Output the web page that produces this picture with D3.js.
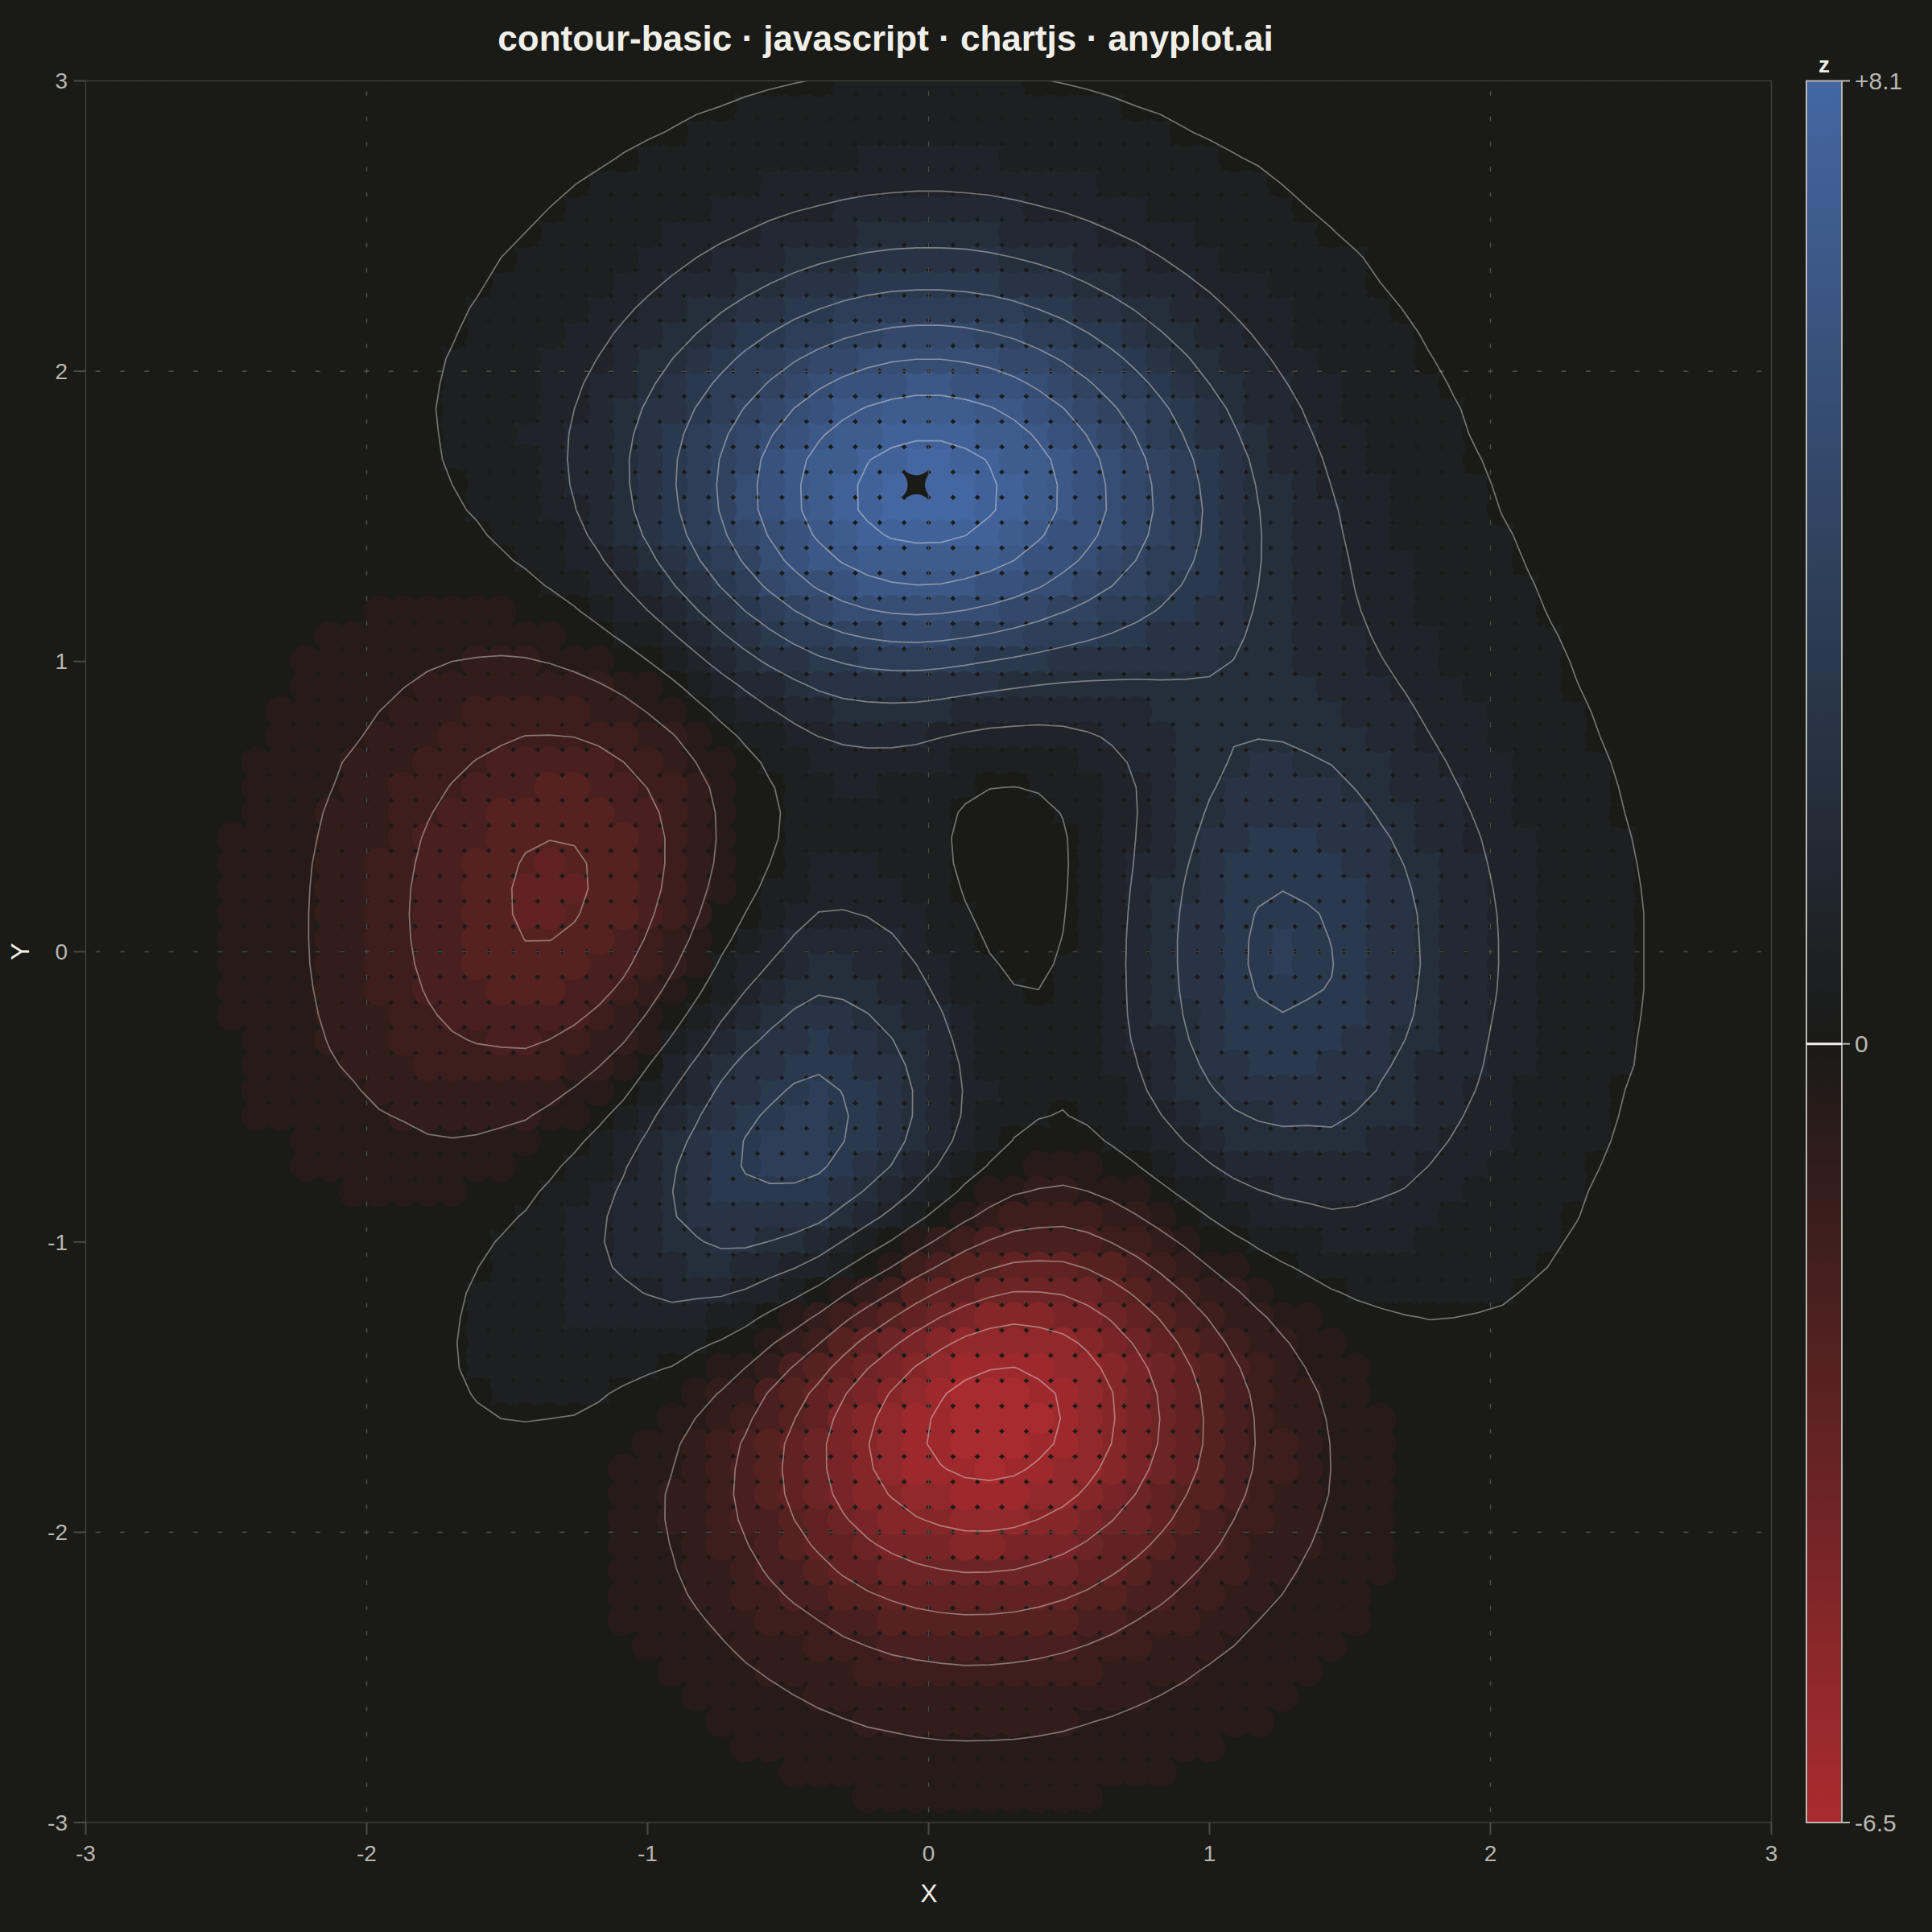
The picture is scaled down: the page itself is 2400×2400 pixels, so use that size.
<!DOCTYPE html>
<html><head><meta charset="utf-8">
<script src="https://cdn.jsdelivr.net/npm/d3@7/dist/d3.min.js"></script>
<style>html,body{margin:0;padding:0;background:#1a1a17}svg{display:block}text{font-family:"Liberation Sans",Arial,sans-serif}</style>
</head><body><svg id="c" width="2400" height="2400"></svg>
<script>
const titleText = "contour-basic · javascript · chartjs · anyplot.ai";
const xTicks = [-3,-2,-1,0,1,2,3];
const yTicks = [-3,-2,-1,0,1,2,3];
const zMax = 8.1, zMin = -6.55;
const colorbarTicks = [[8.1,"+8.1"],[0,"0"],[-6.55,"-6.5"]];
const contourLevels = [-6.03,-4.98,-3.93,-2.89,-1.84,-0.79,0.25,1.30,2.35,3.40,4.44,5.49,6.54,7.58];
const gridSize = 70;
const bandWidth = 0.54;
// z, in hundredths. Each row, from y=-3 up to y=3: [first column, values...]
const zRows = [
[24,-4,-6,-8,-10,-12,-14,-17,-19,-21,-23,-24,-25,-25,-25,-25,-24,-22,-20,-19,-17,-15,-13,-11,-9,-8,-6,-5,-4,-3],
[23,-5,-7,-9,-12,-14,-17,-21,-24,-27,-30,-32,-35,-36,-36,-37,-36,-35,-32,-30,-27,-25,-22,-19,-16,-13,-11,-9,-7,-5,-4,-3],
[22,-5,-6,-9,-13,-16,-21,-25,-30,-34,-40,-43,-47,-49,-51,-52,-52,-51,-49,-47,-43,-39,-35,-31,-26,-22,-19,-15,-12,-10,-8,-6,-5,-3],
[21,-4,-7,-10,-14,-19,-24,-30,-36,-42,-49,-55,-61,-65,-69,-72,-73,-72,-71,-68,-65,-60,-54,-49,-43,-37,-31,-26,-21,-17,-14,-11,-8,-6,-4,-4],
[19,-1,-3,-6,-10,-15,-19,-26,-33,-41,-49,-58,-68,-76,-84,-89,-95,-98,-99,-100,-98,-94,-88,-81,-74,-66,-59,-50,-43,-36,-29,-24,-19,-15,-11,-9,-6,-5,-3],
[15,2,1,1,0,-2,-4,-8,-13,-19,-26,-35,-44,-55,-66,-78,-89,-100,-111,-118,-126,-130,-132,-132,-129,-124,-118,-109,-99,-88,-78,-67,-57,-47,-39,-31,-25,-20,-15,-12,-9,-6,-5,-3],
[14,3,3,2,1,-1,-3,-6,-11,-18,-25,-34,-46,-57,-72,-86,-102,-117,-131,-145,-155,-163,-169,-173,-172,-168,-162,-153,-142,-129,-115,-101,-87,-73,-61,-50,-40,-32,-24,-19,-15,-10,-8,-6,-3],
[13,3,3,3,3,1,0,-3,-7,-13,-22,-32,-43,-59,-73,-92,-111,-130,-149,-169,-185,-200,-210,-217,-222,-221,-216,-207,-196,-182,-166,-147,-130,-112,-95,-79,-65,-53,-42,-33,-26,-19,-14,-11,-8,-5,-3],
[14,4,4,2,1,-1,-5,-9,-18,-29,-40,-53,-71,-91,-113,-136,-161,-184,-209,-229,-247,-261,-270,-275,-274,-269,-258,-245,-226,-206,-184,-161,-138,-117,-98,-79,-63,-50,-39,-30,-23,-17,-12,-9,-6,-4,-3],
[11,3,3,4,4,4,4,2,-1,-6,-11,-21,-34,-48,-64,-87,-110,-136,-166,-195,-224,-253,-280,-301,-318,-330,-336,-335,-328,-316,-299,-277,-251,-225,-198,-169,-143,-119,-96,-78,-62,-46,-37,-27,-18,-14,-10,-6,-4,-3],
[10,2,4,4,5,4,5,5,3,-1,-5,-12,-22,-38,-55,-74,-99,-128,-158,-194,-228,-263,-300,-330,-356,-377,-391,-399,-398,-392,-375,-356,-330,-299,-267,-234,-201,-170,-140,-113,-91,-71,-54,-41,-30,-21,-16,-10,-7,-5,-3],
[10,2,4,4,6,6,6,6,5,1,-4,-12,-24,-40,-60,-81,-111,-143,-179,-220,-261,-302,-345,-381,-412,-437,-454,-465,-465,-456,-438,-415,-384,-349,-311,-272,-233,-198,-163,-132,-106,-82,-63,-46,-34,-24,-17,-12,-8,-5,-4,-3],
[10,3,4,6,7,8,8,8,7,3,-1,-9,-23,-41,-62,-86,-120,-155,-196,-243,-289,-336,-384,-426,-461,-492,-512,-524,-525,-517,-497,-471,-436,-396,-353,-309,-265,-223,-184,-149,-118,-92,-69,-52,-39,-26,-20,-14,-8,-6,-4,-2],
[10,4,5,7,9,10,11,12,11,6,2,-5,-20,-39,-61,-86,-123,-160,-206,-257,-309,-361,-416,-464,-504,-540,-563,-577,-580,-572,-551,-523,-484,-439,-391,-343,-292,-246,-203,-163,-128,-100,-76,-55,-39,-27,-19,-12,-7,-5,-4,-3,-2],
[10,3,5,8,11,12,13,15,15,12,8,2,-12,-31,-54,-78,-117,-156,-204,-261,-316,-373,-434,-487,-532,-571,-599,-616,-622,-614,-592,-562,-521,-473,-421,-368,-314,-264,-217,-174,-136,-104,-78,-57,-40,-27,-18,-11,-7,-5,-3,-2],
[10,4,6,9,12,13,16,19,20,18,15,11,-1,-20,-41,-66,-105,-145,-194,-254,-312,-372,-438,-495,-545,-589,-621,-642,-649,-643,-621,-592,-547,-497,-443,-386,-329,-274,-224,-178,-139,-106,-77,-56,-38,-25,-16,-10,-5,-2],
[10,4,8,8,13,16,18,23,25,26,25,23,13,-2,-21,-43,-81,-119,-167,-227,-287,-350,-420,-480,-533,-582,-617,-642,-655,-650,-629,-600,-556,-505,-449,-391,-331,-275,-223,-176,-135,-102,-72,-51,-34,-21,-12,-5,-2,0,2,2,2,1],
[9,3,3,8,9,14,17,22,26,31,34,37,37,31,17,2,-15,-50,-84,-132,-191,-250,-314,-384,-449,-505,-557,-596,-626,-641,-640,-621,-595,-553,-501,-444,-384,-324,-268,-215,-167,-127,-92,-64,-44,-27,-14,-6,-1,2,4,5,4,4,3,3,2],
[10,3,7,9,14,18,23,30,37,42,49,53,51,43,33,22,-8,-36,-80,-135,-192,-254,-326,-391,-450,-505,-548,-582,-600,-605,-589,-566,-525,-476,-420,-363,-304,-248,-196,-149,-110,-77,-50,-31,-15,-4,3,7,8,8,8,7,5,5,4,3,2],
[8,1,1,1,5,7,13,18,23,33,41,48,59,68,72,70,66,63,40,18,-18,-69,-121,-180,-250,-316,-376,-434,-480,-518,-541,-550,-538,-520,-484,-437,-384,-329,-272,-217,-167,-123,-87,-56,-32,-14,0,8,14,15,14,14,12,11,8,7,5,4,3,2],
[9,-1,-1,2,5,10,16,21,33,44,54,68,82,91,96,100,104,91,77,49,6,-40,-95,-163,-227,-286,-346,-396,-439,-466,-480,-474,-459,-427,-385,-336,-283,-231,-179,-132,-91,-58,-30,-7,8,17,23,26,25,23,21,17,14,11,9,7,5,3,2],
[5,-2,-3,-3,-3,-3,-2,0,1,7,12,18,30,43,56,75,93,109,119,133,147,143,140,121,85,47,-1,-65,-126,-185,-246,-298,-344,-376,-396,-395,-386,-359,-321,-276,-229,-180,-132,-89,-52,-23,2,21,32,38,41,40,37,33,29,23,18,15,11,8,6,4,3],
[5,-3,-3,-5,-7,-6,-9,-5,-5,0,4,11,24,38,53,75,98,120,138,161,184,190,198,189,163,134,93,34,-24,-81,-142,-196,-246,-282,-306,-310,-306,-284,-251,-212,-169,-124,-79,-41,-8,17,36,52,59,60,61,57,50,43,36,30,24,19,14,11,8,5,3],
[3,-2,-3,-4,-5,-6,-8,-11,-14,-13,-12,-9,-5,0,13,29,45,69,97,124,150,180,212,229,248,249,233,212,179,126,73,18,-42,-98,-151,-191,-219,-228,-229,-211,-182,-148,-107,-67,-25,9,37,59,74,85,88,85,81,74,64,55,45,37,28,22,17,13,9,6,4,3],
[3,-3,-4,-6,-8,-10,-12,-16,-20,-20,-22,-20,-19,-14,-3,13,30,56,88,119,151,189,230,256,285,296,290,279,254,207,158,106,48,-9,-63,-106,-137,-150,-156,-140,-116,-84,-47,-9,27,60,84,101,112,120,118,111,103,91,79,67,55,44,35,26,19,15,10,7,5,3],
[3,-4,-6,-8,-10,-13,-15,-20,-27,-28,-34,-33,-34,-32,-22,-7,9,37,70,104,141,186,234,270,307,328,332,329,312,271,226,178,120,64,7,-36,-70,-85,-92,-80,-57,-28,7,43,77,107,127,140,145,154,147,137,127,110,95,80,65,49,38,28,22,16,12,8,6,4],
[3,-5,-7,-10,-13,-18,-21,-28,-36,-40,-47,-49,-52,-52,-44,-33,-17,10,43,80,122,171,226,270,315,345,357,362,352,317,277,232,177,121,64,19,-15,-32,-40,-29,-7,21,57,91,124,152,170,180,182,188,176,162,148,129,109,92,75,57,44,34,25,19,13,9,6,4],
[3,-6,-9,-13,-16,-22,-26,-35,-45,-51,-61,-65,-73,-76,-72,-62,-50,-24,9,48,91,144,204,254,306,343,362,374,370,342,306,263,211,157,100,56,22,5,-3,8,32,61,96,132,165,192,209,216,216,219,205,187,170,147,125,104,81,65,50,38,28,21,15,10,7,5,3],
[3,-7,-10,-14,-20,-28,-33,-42,-55,-62,-75,-83,-95,-101,-100,-94,-85,-61,-30,8,52,109,171,226,284,325,350,369,371,347,315,277,227,175,120,76,45,28,22,35,61,91,128,165,199,227,242,249,247,248,231,211,191,165,139,116,91,73,56,42,31,23,17,12,8,5,3],
[3,-8,-11,-16,-22,-28,-37,-50,-65,-75,-90,-101,-117,-128,-130,-127,-123,-101,-73,-36,8,65,128,188,249,295,325,348,356,338,309,273,228,178,124,82,53,39,35,51,80,112,153,191,228,257,272,279,276,273,254,231,208,180,152,127,100,80,61,46,34,25,18,13,9,6,4],
[3,-9,-13,-18,-25,-32,-42,-57,-74,-87,-105,-120,-139,-153,-159,-161,-160,-142,-117,-82,-37,22,82,145,210,257,294,320,331,315,291,259,216,169,118,80,53,42,41,61,92,127,172,212,250,281,298,303,299,296,269,243,225,188,158,136,107,85,68,50,37,28,20,14,10,6,4],
[3,-10,-14,-20,-27,-36,-47,-63,-82,-97,-117,-136,-159,-177,-188,-193,-196,-183,-160,-128,-85,-28,34,96,162,213,251,282,299,286,266,237,198,153,105,69,46,38,42,65,100,138,184,228,269,301,318,324,319,312,287,260,235,200,169,141,114,91,70,53,39,29,21,15,10,7,4],
[3,-11,-15,-21,-29,-39,-51,-68,-89,-106,-128,-150,-176,-197,-212,-221,-228,-218,-200,-170,-129,-74,-12,52,118,170,211,244,263,255,237,212,176,135,90,57,37,32,38,65,103,145,194,239,281,315,333,339,334,328,301,272,249,210,176,147,119,95,74,55,41,31,22,15,10,7,5],
[3,-11,-16,-23,-31,-40,-54,-72,-94,-113,-138,-161,-190,-214,-232,-245,-255,-249,-233,-207,-169,-115,-56,8,74,128,170,205,227,222,207,185,152,114,73,43,27,25,34,63,103,148,199,246,290,324,343,349,344,338,310,280,255,216,182,154,123,98,77,57,42,32,23,16,11,7,5],
[3,-12,-17,-23,-32,-43,-57,-75,-98,-118,-144,-170,-200,-227,-247,-263,-276,-273,-261,-237,-201,-150,-92,-30,35,88,132,168,192,190,178,159,130,95,56,30,17,17,30,61,103,150,202,250,295,329,348,355,350,342,314,284,259,221,186,155,125,100,77,58,43,32,23,16,11,7,5],
[3,-12,-17,-23,-32,-43,-58,-76,-100,-121,-148,-174,-207,-235,-257,-275,-290,-290,-281,-260,-226,-177,-122,-61,2,55,99,135,161,161,152,135,110,78,42,19,9,11,26,58,102,149,202,250,294,329,347,354,349,339,314,284,256,220,185,154,125,100,77,58,43,32,23,16,11,7,5],
[3,-12,-17,-23,-33,-43,-58,-76,-100,-121,-149,-176,-209,-238,-262,-281,-298,-301,-293,-275,-244,-198,-146,-86,-26,26,69,106,132,134,127,113,91,62,30,10,2,6,22,55,99,146,198,246,290,324,343,349,344,336,310,280,254,216,182,153,123,98,76,57,42,32,23,16,11,7,5],
[3,-11,-16,-22,-31,-43,-56,-75,-98,-119,-146,-174,-207,-236,-261,-281,-299,-303,-298,-282,-253,-211,-163,-105,-48,2,44,80,106,110,105,94,74,48,20,2,-3,2,19,52,95,141,192,239,281,315,332,339,334,324,301,272,244,210,176,147,119,95,73,55,41,31,22,15,10,7,5],
[3,-11,-16,-22,-31,-41,-54,-73,-95,-115,-142,-168,-201,-230,-255,-275,-294,-299,-296,-282,-255,-215,-171,-117,-63,-16,25,61,87,91,88,78,61,38,13,-2,-6,0,18,49,91,135,184,229,270,301,317,324,319,310,287,260,233,201,169,140,114,91,70,53,39,29,21,15,10,7,4],
[3,-11,-15,-21,-29,-39,-53,-69,-90,-110,-135,-161,-192,-219,-243,-264,-282,-288,-286,-273,-250,-213,-172,-121,-69,-25,13,47,72,78,77,69,55,35,12,-1,-4,3,19,51,89,131,177,218,256,285,301,307,301,294,270,245,221,189,159,133,107,86,66,50,37,27,20,14,10,6,4],
[3,-10,-14,-20,-27,-36,-48,-64,-85,-102,-127,-149,-179,-205,-227,-248,-264,-270,-269,-258,-236,-203,-163,-116,-68,-26,11,43,67,75,74,69,57,39,19,7,5,11,27,56,91,128,169,208,242,269,282,287,282,274,253,228,205,176,147,123,100,80,61,46,34,25,18,13,9,6,4],
[3,-9,-13,-19,-25,-33,-45,-59,-77,-94,-115,-137,-164,-188,-209,-227,-243,-248,-246,-235,-215,-183,-147,-103,-58,-19,19,49,74,82,83,80,70,55,36,26,24,29,42,67,97,130,166,200,229,253,264,267,261,252,233,210,188,162,135,113,91,73,56,42,31,23,17,12,8,5,3],
[3,-8,-12,-17,-23,-31,-41,-53,-71,-87,-104,-126,-149,-169,-187,-202,-216,-219,-218,-206,-185,-157,-121,-78,-35,3,38,69,94,104,107,105,98,85,69,58,55,59,68,88,113,140,170,197,221,240,247,248,242,233,214,192,172,147,123,103,83,66,51,38,28,21,15,10,7,5,3],
[3,-7,-10,-15,-20,-27,-35,-47,-62,-74,-91,-109,-130,-147,-162,-175,-186,-187,-184,-172,-150,-120,-86,-45,-2,36,72,103,129,141,147,148,143,131,117,107,103,102,107,120,138,158,180,200,218,232,234,232,224,213,195,175,155,132,111,92,74,59,46,34,25,19,13,9,6,4],
[3,-6,-9,-13,-18,-24,-31,-40,-53,-64,-79,-93,-110,-125,-137,-147,-153,-151,-145,-131,-108,-77,-42,1,43,83,121,153,181,197,206,209,206,196,183,172,165,159,160,167,177,186,200,212,221,227,225,220,209,197,178,159,141,119,100,82,66,53,40,30,22,16,12,8,6,4],
[3,-5,-8,-11,-15,-20,-27,-34,-43,-53,-65,-78,-90,-101,-109,-116,-119,-113,-103,-87,-63,-32,8,52,95,139,177,214,246,268,279,283,282,274,262,250,240,230,223,220,220,222,226,228,229,227,221,210,197,183,164,145,127,107,88,73,58,46,35,26,19,14,10,7,5],
[3,-5,-7,-9,-13,-17,-21,-28,-36,-44,-52,-62,-72,-79,-83,-86,-84,-76,-62,-40,-12,23,64,110,159,205,249,287,322,346,363,372,373,366,354,339,325,310,296,286,276,266,260,252,244,234,221,206,189,172,152,133,115,96,79,65,52,41,31,23,17,12,8,6,4,3],
[3,-4,-6,-8,-11,-14,-17,-23,-29,-34,-40,-46,-54,-57,-58,-56,-51,-38,-20,5,37,76,121,170,222,272,320,365,403,432,452,464,468,462,450,434,415,394,372,352,333,314,296,279,262,244,224,204,183,163,143,122,105,87,71,57,45,36,27,20,15,11,7,5,3],
[3,-3,-5,-6,-8,-11,-13,-17,-22,-25,-30,-33,-37,-37,-35,-30,-19,-3,18,49,85,129,177,230,286,341,394,442,485,519,543,558,563,559,546,528,505,478,448,420,391,362,334,307,281,256,229,204,179,158,134,114,96,78,64,51,41,31,23,18,13,9,7,4,3],
[4,-4,-5,-7,-8,-10,-12,-15,-18,-19,-21,-22,-19,-14,-5,9,29,56,88,129,176,228,285,344,403,460,513,561,598,626,644,652,649,634,614,588,556,519,482,445,407,370,334,300,267,235,205,177,152,128,107,89,72,58,45,36,27,21,15,11,8,6,3,2],
[4,-3,-4,-6,-6,-6,-9,-10,-11,-11,-10,-9,-4,4,17,33,56,85,121,165,214,270,331,392,455,515,572,621,661,693,714,722,721,707,684,654,617,577,533,488,443,399,355,314,276,239,206,175,148,123,100,83,66,52,41,31,24,18,13,9,7,5,3,2],
[5,-3,-3,-3,-4,-5,-6,-5,-4,-3,1,9,18,34,53,78,109,148,193,246,302,365,428,493,555,614,666,709,742,765,774,773,759,735,704,664,619,570,520,468,419,369,324,280,240,203,171,142,117,94,77,60,47,37,28,21,16,11,8,6,4,2],
[8,-5,-2,-2,-1,2,4,10,18,30,46,67,93,127,165,212,265,322,385,450,516,579,638,691,737,771,794,805,804,790,766,733,690,642,591,537,481,428,375,326,281,237,200,166,137,111,89,70,56,42,33,24,19,14,10,7,5,3],
[9,0,1,2,5,9,16,25,38,54,75,103,136,175,221,273,330,392,455,519,581,640,692,737,772,795,810,805,792,768,734,691,643,590,535,479,424,370,319,273,230,192,158,129,104,82,65,51,38,30,21,17,12,8,6,4,3],
[10,3,4,8,13,19,29,42,59,80,107,139,178,223,272,327,387,448,510,571,628,679,721,755,778,789,789,776,754,721,678,630,577,522,466,411,357,307,261,219,181,148,120,95,75,59,45,34,26,19,13,10,7,4,3,2],
[11,6,9,14,21,30,43,60,81,106,137,173,215,262,313,370,427,485,542,595,643,683,715,736,747,747,735,714,683,642,596,546,494,440,387,335,288,243,203,168,136,110,87,68,53,40,30,22,17,12,8,6,5,3],
[9,3,4,7,10,15,22,31,42,58,78,102,130,163,202,245,292,344,396,449,501,551,595,632,661,681,692,692,680,661,632,594,552,505,456,406,357,309,264,223,186,152,124,99,78,61,47,36,27,20,15,10,7,5,3],
[9,3,5,7,10,15,21,29,40,54,72,93,119,149,183,222,264,310,357,404,451,495,535,568,594,612,622,622,612,594,568,534,496,454,409,364,319,275,235,198,165,135,109,87,68,53,41,31,23,17,13,9,6,4,3],
[9,3,5,6,9,14,19,27,36,49,64,83,106,132,163,197,234,274,314,356,397,436,470,500,523,539,547,547,538,523,500,470,436,399,359,319,280,242,206,173,143,117,94,75,59,45,35,26,20,14,10,7,5,4,2],
[9,2,4,6,8,12,17,23,32,42,56,72,92,114,140,170,201,235,270,306,340,373,402,428,447,461,468,468,461,447,428,402,374,342,308,274,239,207,176,148,122,100,80,64,49,38,29,22,16,12,8,6,4,3],
[9,2,3,5,7,10,14,20,27,37,47,61,78,96,118,142,169,198,227,256,285,313,337,358,375,386,392,392,386,375,358,337,313,286,258,229,200,172,147,123,102,83,67,53,41,31,24,18,13,10,7,5,4,3],
[9,2,3,4,6,9,12,17,22,30,39,50,63,79,97,116,138,161,185,209,233,255,275,293,306,316,320,320,315,306,293,275,256,234,210,187,163,140,120,101,83,67,54,43,33,25,19,14,11,8,6,4,3],
[10,3,3,5,7,10,14,18,25,32,41,52,64,78,94,111,130,149,169,188,205,221,235,246,254,257,257,254,246,235,221,206,188,169,150,131,113,96,80,66,54,43,34,27,20,15,11,8,6,4,3],
[11,3,4,6,8,11,15,20,25,32,40,50,61,73,87,101,116,131,146,160,172,183,192,197,200,200,198,192,183,173,160,146,132,117,102,88,74,62,51,41,33,26,20,15,12,8,6,5,3],
[11,2,3,5,6,8,11,15,19,25,31,39,47,56,67,78,89,101,112,123,132,140,147,151,154,154,151,147,140,132,123,112,101,89,78,67,57,48,39,32,25,20,15,11,8,6,5,3],
[12,2,3,5,6,8,11,15,19,24,29,36,43,50,59,67,76,84,92,100,106,111,114,116,116,114,111,106,100,92,84,76,67,59,50,43,36,30,24,19,15,11,8,6,5,3],
[14,4,5,6,8,11,14,17,21,26,31,37,43,49,56,62,68,73,78,81,84,85,85,84,81,78,73,68,62,56,49,43,37,31,26,22,18,14,11,8,6,5,4],
[14,3,3,5,6,8,10,12,15,19,22,26,31,35,40,44,49,52,56,58,60,61,61,60,58,56,52,49,44,40,35,31,26,22,19,15,12,10,8,6,5,3,3],
[16,3,4,5,7,9,11,13,16,19,22,25,28,31,34,37,39,41,42,43,43,42,41,39,37,34,31,28,25,22,19,16,13,11,9,7,5,4,3],
[18,4,5,6,8,9,11,13,15,17,20,22,24,26,27,29,30,30,30,30,29,27,26,24,22,20,17,15,13,11,9,8,6,5,4]
];

const W = 2400, H = 2400;
const bg = "#1a1a17", blue = "#4467a2", red = "#aa2b2f", tickInk = "#b8b7b0", ink = "#f0efe8", frame = "#3f3f3c";
const px = [106.5, 2200.5], py = [2264, 100.5];
const x = d3.scaleLinear().domain([-3,3]).range(px);
const y = d3.scaleLinear().domain([-3,3]).range(py);
const color = d3.scaleLinear().domain([zMin,0,zMax]).range([red,bg,blue]);
const step = 6/(gridSize-1);
const gx = i => -3 + i*step;

const values = new Float64Array(gridSize*gridSize);
zRows.forEach((row,j) => row.slice(1).forEach((v,n) => { values[j*gridSize + row[0] + n] = v/100; }));

const svg = d3.select("#c");
svg.append("rect").attr("width",W).attr("height",H).attr("fill",bg);
svg.append("defs").append("clipPath").attr("id","plot").append("rect")
  .attr("x",px[0]).attr("y",py[1]).attr("width",px[1]-px[0]).attr("height",py[0]-py[1]);

// grid (shows through the gaps between discs)
const grid = svg.append("g").attr("stroke","#4a4b45").attr("stroke-width",1.6);
grid.selectAll("line.v").data(xTicks.slice(1,-1)).join("line").attr("x1",d=>x(d)).attr("x2",d=>x(d)).attr("y1",py[0]).attr("y2",py[1]);
grid.selectAll("line.h").data(yTicks.slice(1,-1)).join("line").attr("y1",d=>y(d)).attr("y2",d=>y(d)).attr("x1",px[0]).attr("x2",px[1]);

// discs, one per grid node, painted from highest to lowest band
const cells = [];
values.forEach((z,n) => {
  if (z >= zMax) return;
  const band = Math.round(z/bandWidth)*bandWidth;
  cells.push({i:n%gridSize, j:Math.floor(n/gridSize), band});
});
cells.sort((a,b)=>d3.descending(a.band,b.band));
svg.append("g").attr("clip-path","url(#plot)").selectAll("circle").data(cells).join("circle")
  .attr("cx",d=>x(gx(d.i))).attr("cy",d=>y(gx(d.j))).attr("r",19.6)
  .attr("fill",d=>d.band===0?bg:color(d.band));

// contours
const path = d3.geoPath(d3.geoTransform({point(a,b){ this.stream.point(x(gx(a-0.5)), y(gx(b-0.5))); }}));
const contours = d3.contours().size([gridSize,gridSize]).thresholds(contourLevels)(Array.from(values));
svg.append("g").attr("clip-path","url(#plot)").selectAll("path").data(contours).join("path")
  .attr("d",path).attr("fill","none").attr("stroke","#f0efe8").attr("stroke-opacity",0.42).attr("stroke-width",1.7);

// frame and ticks
svg.append("rect").attr("x",px[0]).attr("y",py[1]).attr("width",px[1]-px[0]).attr("height",py[0]-py[1])
  .attr("fill","none").attr("stroke",frame).attr("stroke-width",1.5);
const axes = svg.append("g");
axes.selectAll("line.xt").data(xTicks).join("line").attr("x1",d=>x(d)).attr("x2",d=>x(d)).attr("y1",py[0]).attr("y2",py[0]+15).attr("stroke","#4a4a47").attr("stroke-width",2);
axes.selectAll("line.yt").data(yTicks).join("line").attr("y1",d=>y(d)).attr("y2",d=>y(d)).attr("x1",px[0]-15).attr("x2",px[0]).attr("stroke","#4a4a47").attr("stroke-width",2);
axes.selectAll("text.xl").data(xTicks).join("text").attr("x",d=>x(d)).attr("y",2302).attr("dy","0.35em").attr("text-anchor","middle").attr("font-size",28).attr("fill",tickInk).text(d=>d);
axes.selectAll("text.yl").data(yTicks).join("text").attr("x",84).attr("y",d=>y(d)).attr("dy","0.35em").attr("text-anchor","end").attr("font-size",28).attr("fill",tickInk).text(d=>d);

svg.append("text").attr("x",1100).attr("y",48).attr("dy","0.35em").attr("text-anchor","middle").attr("font-size",44).attr("font-weight","bold").attr("fill",ink).text(titleText);
svg.append("text").attr("x",1154).attr("y",2352).attr("dy","0.35em").attr("text-anchor","middle").attr("font-size",32).attr("fill",ink).text("X");
svg.append("text").attr("transform","translate(25,1182) rotate(-90)").attr("dy","0.35em").attr("text-anchor","middle").attr("font-size",32).attr("fill",ink).text("Y");

// colour bar
const cb = d3.scaleLinear().domain([zMin,zMax]).range([py[0],py[1]]);
const grad = svg.select("defs").append("linearGradient").attr("id","cbar").attr("x1",0).attr("x2",0).attr("y1",1).attr("y2",0);
[zMin,0,zMax].forEach(v => grad.append("stop").attr("offset",cb.copy().range([0,1])(v)).attr("stop-color",color(v)));
svg.append("rect").attr("x",2244).attr("y",py[1]).attr("width",44).attr("height",py[0]-py[1]).attr("fill","url(#cbar)").attr("stroke",tickInk).attr("stroke-width",2);
svg.append("line").attr("x1",2244).attr("x2",2288).attr("y1",cb(0)).attr("y2",cb(0)).attr("stroke",ink).attr("stroke-width",3);
svg.selectAll("line.cb").data(colorbarTicks).join("line").attr("x1",2288).attr("x2",2298).attr("y1",d=>cb(d[0])).attr("y2",d=>cb(d[0])).attr("stroke",tickInk).attr("stroke-width",2);
svg.selectAll("text.cb").data(colorbarTicks).join("text").attr("x",2304).attr("y",d=>cb(d[0])).attr("dy","0.35em").attr("font-size",30).attr("fill",tickInk).text(d=>d[1]);
svg.append("text").attr("x",2266).attr("y",80).attr("dy","0.35em").attr("text-anchor","middle").attr("font-size",28).attr("font-weight","bold").attr("fill",ink).text("z");
</script></body></html>
